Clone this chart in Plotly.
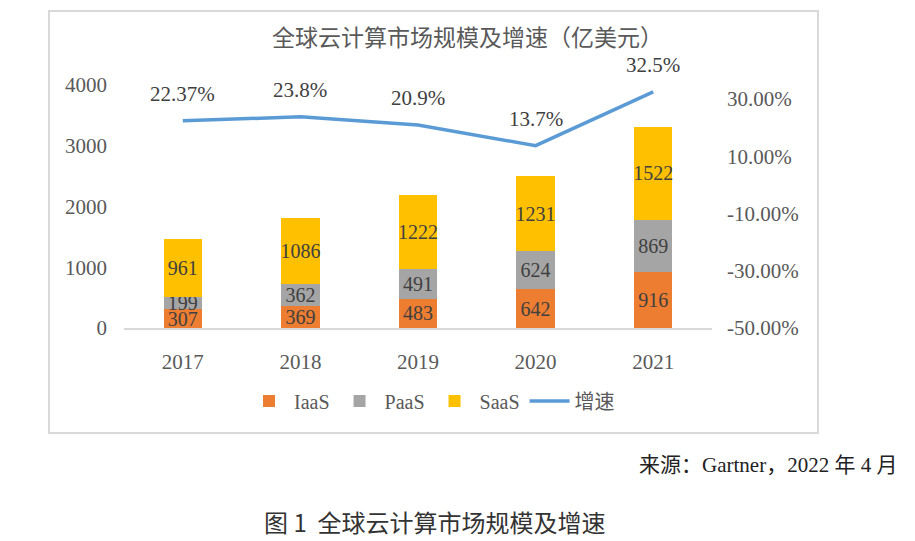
import plotly.graph_objects as go

years = ["2017", "2018", "2019", "2020", "2021"]
iaas = [307, 369, 483, 642, 916]
paas = [199, 362, 491, 624, 869]
saas = [961, 1086, 1222, 1231, 1522]
growth = [0.2237, 0.238, 0.209, 0.137, 0.325]
growth_labels = ["22.37%", "23.8%", "20.9%", "13.7%", "32.5%"]
left_ticks = [0, 1000, 2000, 3000, 4000]
right_ticks = [-0.5, -0.3, -0.1, 0.1, 0.3]
right_tick_labels = ["-50.00%", "-30.00%", "-10.00%", "10.00%", "30.00%"]

W, H = 915, 541
L, R, T, B = 124, 712, 85, 328
SERIF = "Liberation Serif, 'Noto Sans CJK SC', serif"
TXT = "#404040"
AX = "#595959"


def px(x):
    return (x - L) / (R - L)


def py(y):
    return (B - y) / (B - T)


fig = go.Figure()
bar_font = dict(family=SERIF, size=20, color=TXT)
for name, vals, col in [("IaaS", iaas, "#ED7D31"), ("PaaS", paas, "#A5A5A5"), ("SaaS", saas, "#FFC000")]:
    fig.add_trace(go.Bar(
        x=years, y=vals, name=name, marker=dict(color=col, line=dict(width=0)),
        text=[str(v) for v in vals], textposition="inside", insidetextanchor="middle",
        textangle=0, textfont=bar_font, constraintext="none", cliponaxis=False,
    ))

fig.add_trace(go.Scatter(
    x=years, y=growth, name="增速", yaxis="y2", mode="lines",
    line=dict(color="#5B9BD5", width=3.5),
))

for i, (g, lab) in enumerate(zip(growth, growth_labels)):
    fig.add_annotation(x=i, y=g, xref="x", yref="y2", text=lab, showarrow=False,
                       yshift=27, font=dict(family=SERIF, size=21, color=TXT))

fig.update_layout(
    width=W, height=H, barmode="stack", bargap=0.675,
    margin=dict(l=L, r=W - R, t=T, b=H - B, pad=0),
    paper_bgcolor="white", plot_bgcolor="white",
    uniformtext=dict(mode="show", minsize=20),
    font=dict(family=SERIF, color=AX, size=21),
    xaxis=dict(type="category", range=[-0.5, len(years) - 0.5], showgrid=False, showline=True,
               linecolor="#D9D9D9", linewidth=1.5,
               ticks="", ticklabelstandoff=14, tickfont=dict(size=21, color=AX)),
    yaxis=dict(range=[0, 4000], tickvals=left_ticks, showgrid=False, zeroline=False,
               showline=False, ticks="", ticklabelstandoff=16,
               tickfont=dict(size=21, color=AX)),
    yaxis2=dict(range=[-0.5, 0.349], overlaying="y", side="right", tickvals=right_ticks,
                ticktext=right_tick_labels, showgrid=False, zeroline=False, showline=False,
                ticks="", ticklabelstandoff=14, tickfont=dict(size=21, color=AX)),
    legend=dict(orientation="h", x=px(432), y=py(401), xanchor="center", yanchor="middle",
                font=dict(family=SERIF, size=20, color=AX), itemwidth=40,
                traceorder="normal"),
    showlegend=True,
)

fig.add_shape(type="rect", xref="paper", yref="paper", x0=px(49), x1=px(818), y0=py(433), y1=py(11),
              line=dict(color="#D9D9D9", width=2), layer="below")

fig.add_annotation(xref="paper", yref="paper", x=px(467), y=py(36), text="全球云计算市场规模及增速（亿美元）",
                   showarrow=False, font=dict(family="'Noto Sans CJK SC'", size=23, color=AX),
                   xanchor="center", yanchor="middle")
fig.add_annotation(xref="paper", yref="paper", x=px(899), y=py(465), text="来源：Gartner，2022 年 4 月",
                   showarrow=False, font=dict(family=SERIF, size=21, color="#222222"),
                   xanchor="right", yanchor="middle")
fig.add_annotation(xref="paper", yref="paper", x=px(434), y=py(521), text="图 1  全球云计算市场规模及增速",
                   showarrow=False, font=dict(family="'Noto Sans CJK SC'", size=24, color="#333333"),
                   xanchor="center", yanchor="middle")

fig.write_html("out.html")
